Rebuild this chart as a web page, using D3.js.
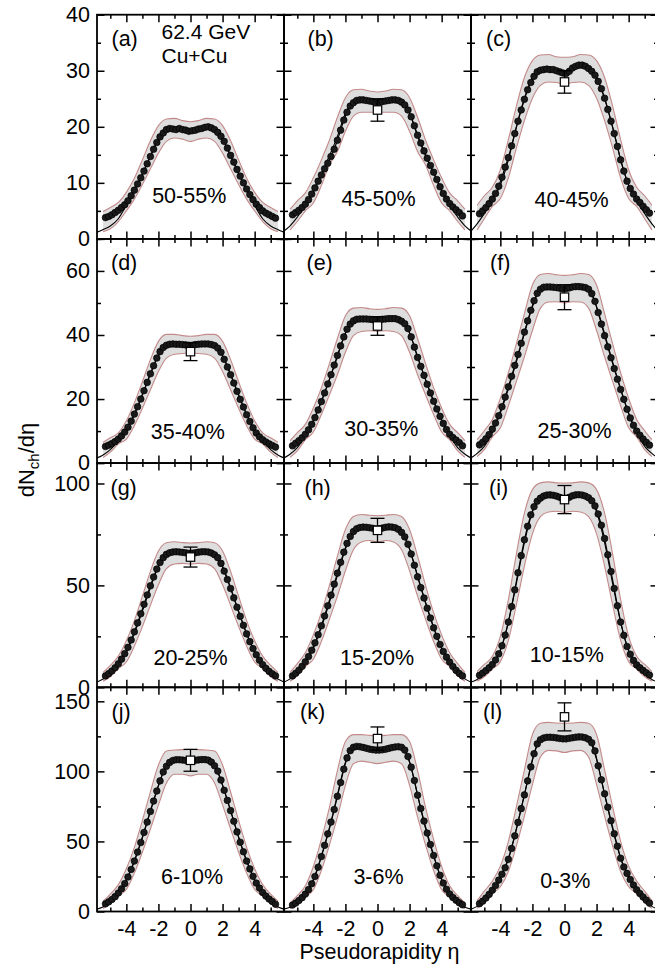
<!DOCTYPE html>
<html><head><meta charset="utf-8">
<script src="https://cdn.jsdelivr.net/npm/d3@7"></script>
<style>
body{margin:0;background:#fff}
svg{display:block}
text{font-family:"Liberation Sans", Arial, Helvetica, sans-serif;fill:#000}
</style>
</head><body>
<svg id="chart" width="655" height="969"></svg>
<script>
// ---------------- DATA ----------------
const panelTags = ["(a)","(b)","(c)","(d)","(e)","(f)","(g)","(h)","(i)","(j)","(k)","(l)"];
const centralities = ["50-55%","45-50%","40-45%","35-40%","30-35%","25-30%","20-25%","15-20%","10-15%","6-10%","3-6%","0-3%"];
const rowMax = [40, 70, 110, 160];
const yMajor = [[0,10,20,30,40],[0,20,40,60],[0,50,100],[0,50,100,150]];
const yMinor = [[5,15,25,35],[10,30,50,70],[25,75],[25,75,125]];
const xMajor = [-4,-2,0,2,4];
const xMinor = [-5,-3,-1,1,3,5];

const etaData = [-5.3,-5.1,-4.9,-4.7,-4.5,-4.3,-4.1,-3.9,-3.7,-3.5,-3.3,-3.1,-2.9,-2.7,-2.5,-2.3,-2.1,-1.9,-1.7,-1.5,-1.3,-1.1,-0.9,-0.7,-0.5,-0.3,-0.1,
                 0.1,0.3,0.5,0.7,0.9,1.1,1.3,1.5,1.7,1.9,2.1,2.3,2.5,2.7,2.9,3.1,3.3,3.5,3.7,3.9,4.1,4.3,4.5,4.7,4.9,5.1,5.3];

const dndeta = [
 [3.8,4.0,4.3,4.7,5.1,5.6,6.1,6.8,7.7,8.7,9.8,10.9,12.1,13.4,14.7,16.0,17.2,18.2,18.9,19.5,19.7,19.6,19.5,19.7,19.5,19.4,19.2,
  19.3,19.4,19.6,19.7,19.9,20.0,19.8,19.5,19.0,18.3,17.4,16.2,14.9,13.7,12.4,11.2,10.0,8.9,7.9,7.0,6.2,5.6,5.0,4.6,4.3,4.0,3.7],
 [4.3,4.7,5.1,5.6,6.2,7.0,8.0,9.1,10.3,11.4,12.5,13.5,14.7,16.0,17.6,19.4,21.2,22.6,23.7,24.3,24.7,24.8,24.8,24.7,24.6,24.5,24.3,
  24.4,24.5,24.6,24.7,24.8,24.8,24.7,24.4,23.9,23.0,21.8,20.2,18.5,17.1,15.7,14.4,13.1,11.9,10.6,9.3,8.1,7.1,6.3,5.7,5.2,4.7,4.1],
 [4.5,5.0,5.6,6.3,7.1,8.1,9.4,11.0,12.8,14.5,16.6,18.8,21.0,23.0,24.9,26.6,27.9,29.0,29.8,30.1,30.2,30.3,30.2,30.2,30.0,29.8,29.6,
  29.5,29.9,30.5,30.8,31.0,31.0,30.8,30.4,29.9,29.2,28.1,26.8,25.1,23.1,21.0,18.8,16.5,14.1,12.1,10.3,9.0,8.0,7.1,6.5,5.8,5.2,4.6],
 [5.2,5.6,6.1,6.7,7.5,8.5,9.7,11.2,13.1,15.3,17.6,20.0,22.6,25.2,27.9,30.4,32.8,34.8,36.1,36.8,37.1,37.2,37.1,37.1,37.0,36.9,36.8,
  36.8,37.0,37.1,37.2,37.2,37.2,37.0,36.7,35.9,34.6,32.4,30.0,27.6,25.0,22.4,19.9,17.5,15.1,13.0,11.0,9.4,8.2,7.3,6.6,6.0,5.5,5.0],
 [5.4,6.2,7.0,7.9,9.0,10.4,12.1,14.2,16.6,19.2,21.9,24.7,27.6,30.6,33.6,36.6,39.4,41.8,43.4,44.4,44.9,45.0,45.0,45.0,44.9,44.8,44.7,
  44.8,44.9,45.0,45.1,45.1,45.1,44.8,44.3,43.5,42.0,39.4,36.2,33.0,30.2,27.4,24.6,21.9,19.3,16.9,14.6,12.4,10.5,9.0,8.0,7.2,6.4,5.4],
 [5.7,6.5,7.6,8.9,10.6,12.5,14.8,17.6,20.6,23.8,27.1,30.5,33.9,37.4,40.9,44.4,47.7,50.7,53.0,54.3,54.9,55.0,55.0,54.9,54.8,54.6,54.4,
  54.5,54.7,55.0,55.1,55.1,55.0,54.8,54.3,52.9,50.5,47.0,43.4,39.8,36.3,32.9,29.5,26.2,23.0,19.9,16.8,14.1,11.8,10.0,8.7,7.5,6.5,5.6],
 [5.6,6.7,8.0,9.6,11.5,13.8,16.5,19.6,23.2,27.2,31.6,36.1,40.7,45.3,49.8,54.1,58.0,61.2,63.6,65.2,66.0,66.4,66.5,66.4,66.2,66.0,65.7,
  65.8,66.0,66.3,66.5,66.5,66.4,65.9,65.0,63.6,60.8,57.0,52.9,48.5,43.9,39.3,34.8,30.4,26.2,22.4,19.0,16.0,13.3,11.1,9.3,7.8,6.6,5.6],
 [5.6,6.9,8.4,10.3,12.5,15.1,18.2,21.8,25.8,30.2,35.0,40.0,45.2,50.6,56.0,61.3,66.3,70.6,74.0,76.4,77.8,78.4,78.6,78.5,78.3,78.0,77.7,
  77.8,78.1,78.5,78.7,78.6,78.3,77.5,76.0,73.8,70.2,65.4,59.9,54.2,48.9,43.8,38.8,34.0,29.2,25.0,21.0,17.6,14.8,12.4,10.2,8.3,6.8,5.6],
 [5.9,7.0,8.2,9.6,11.2,13.4,16.4,20.4,25.6,32.0,39.6,47.8,56.2,64.6,72.4,79.0,84.6,88.6,91.3,92.8,93.8,94.3,94.4,94.2,93.8,93.2,92.6,
  92.6,93.2,94.0,94.4,94.5,94.3,93.8,93.0,91.5,89.0,85.0,79.5,73.0,65.0,56.8,48.5,40.0,32.0,25.5,20.0,16.2,13.2,11.0,9.6,8.3,7.1,6.0],
 [5.5,6.9,8.6,10.6,13.2,16.2,19.9,24.6,30.0,36.0,42.4,49.2,56.4,63.8,71.4,78.8,86.0,93.2,99.6,103.6,106.4,107.8,108.3,108.3,108.1,107.8,107.5,
  107.6,107.9,108.2,108.4,108.4,108.0,106.6,104.0,100.2,93.8,86.5,79.3,72.0,64.4,56.8,49.4,42.6,36.0,30.4,25.1,20.3,16.7,13.5,11.0,8.9,7.1,5.2],
 [4.6,6.0,7.8,9.9,12.4,15.6,19.8,25.0,31.6,39.2,47.2,55.4,63.8,72.8,82.2,92.0,101.6,109.6,114.8,117.2,117.8,117.6,117.1,116.5,115.9,115.5,115.2,
  115.2,115.4,115.8,116.4,117.0,117.4,117.6,117.2,115.2,110.6,103.0,93.5,83.0,73.5,64.5,56.0,47.8,40.0,32.6,25.8,20.3,15.9,12.5,10.0,8.0,6.2,4.8],
 [5.6,7.4,9.6,12.2,15.2,18.6,22.4,26.6,31.2,37.2,45.0,54.0,63.6,73.4,83.2,93.2,103.2,112.6,119.6,122.6,123.8,124.3,124.4,124.2,123.9,123.5,123.2,
  123.2,123.6,124.0,124.4,124.6,124.5,124.0,122.9,120.4,114.6,104.0,94.0,84.0,74.4,64.8,55.5,46.6,38.0,31.8,27.2,22.8,18.9,15.5,12.8,10.4,8.1,6.0]
];

const etaCurve = [-5.83,-5.5,-5,-4.5,-4,-3.5,-3,-2.5,-2,-1.5,-1,-0.5,0,0.5,1,1.5,2,2.5,3,3.5,4,4.5,5,5.5,5.83];
const model = [
 [1.2,1.6,2.3,3.6,6.0,8.8,11.6,14.8,17.8,19.4,19.6,19.5,19.3,19.5,19.6,19.4,17.8,14.8,11.6,8.8,6.0,3.6,2.3,1.6,1.2],
 [1.4,2.2,3.9,5.9,8.5,11.7,14.8,18.3,22.4,24.4,24.7,24.6,24.4,24.6,24.7,24.4,22.4,18.3,14.8,11.7,8.5,5.9,3.9,2.2,1.4],
 [1.4,2.5,4.5,6.8,9.6,14.1,20.0,25.1,28.8,30.3,30.6,30.3,29.9,30.3,30.6,30.3,28.8,25.1,20.0,14.1,9.6,6.8,4.5,2.5,1.4],
 [1.6,2.4,4.2,7.0,10.4,15.2,21.4,27.8,33.6,36.6,37.2,37.1,36.9,37.1,37.2,36.6,33.6,27.8,21.4,15.2,10.4,7.0,4.2,2.4,1.6],
 [1.6,2.6,4.8,8.6,13.4,19.3,26.0,33.2,40.6,44.2,45.0,45.0,44.8,45.0,45.0,44.2,40.6,33.2,26.0,19.3,13.4,8.6,4.8,2.6,1.6],
 [1.6,2.8,5.2,9.6,15.6,23.2,31.6,40.4,48.8,54.2,55.1,55.0,54.6,55.0,55.1,54.2,48.8,40.4,31.6,23.2,15.6,9.6,5.2,2.8,1.6],
 [2.6,3.8,6.5,10.8,17.4,26.4,37.4,48.8,59.4,65.0,66.5,66.3,65.9,66.3,66.5,65.0,59.4,48.8,37.4,26.4,17.4,10.8,6.5,3.8,2.6],
 [2.6,3.9,7.0,12.0,19.2,29.4,41.6,54.8,67.8,76.1,78.5,78.5,77.9,78.5,78.5,76.1,67.8,54.8,41.6,29.4,19.2,12.0,7.0,3.9,2.6],
 [2.6,3.6,6.5,10.5,18.0,32.0,51.0,71.0,86.0,93.0,94.4,94.0,92.8,94.0,94.4,93.0,86.0,71.0,51.0,32.0,18.0,10.5,6.5,3.6,2.6],
 [1.7,3.0,6.8,13.0,22.6,36.0,53.0,72.0,90.0,104.0,108.3,108.2,107.8,108.2,108.3,104.0,90.0,72.0,53.0,36.0,22.6,13.0,6.8,3.0,1.7],
 [1.7,2.8,6.0,12.0,22.6,39.6,59.0,83.0,106.5,117.0,117.2,116.0,115.5,116.0,117.2,117.0,106.5,83.0,59.0,39.6,22.6,12.0,6.0,2.8,1.7],
 [1.7,3.3,7.8,15.0,24.8,38.0,59.0,83.5,108.5,122.8,124.5,124.0,123.4,124.0,124.5,122.8,108.5,83.5,59.0,38.0,24.8,15.0,7.8,3.3,1.7]
];

const etaBand = [-5.45,-5,-4.5,-4,-3.5,-3,-2.5,-2,-1.5,-1,-0.5,0,0.5,1,1.5,2,2.5,3,3.5,4,4.5,5,5.45];
const bandHi = [
 [4.9,5.6,6.5,8.3,10.8,14.1,17.5,20.2,21.4,21.5,21.1,20.9,21.1,21.5,21.4,20.2,17.5,14.1,10.8,8.3,6.5,5.6,4.9],
 [5.3,6.8,8.2,10.9,14.1,17.6,21.7,25.2,26.6,26.7,26.4,26.2,26.4,26.7,26.6,25.2,21.7,17.6,14.1,10.9,8.2,6.8,5.3],
 [6.0,7.7,9.2,12.3,17.7,23.7,28.8,31.8,32.8,32.9,32.5,32.4,32.5,32.9,32.8,31.8,28.8,23.7,17.7,12.3,9.2,7.7,6.0],
 [6.5,7.9,9.4,13.2,18.8,25.4,32.3,38.0,40.2,40.2,39.8,39.6,39.8,40.2,40.2,38.0,32.3,25.4,18.8,13.2,9.4,7.9,6.5],
 [7.0,9.5,12.1,17.2,23.5,31.0,38.9,46.0,48.4,48.6,48.2,48.0,48.2,48.6,48.4,46.0,38.9,31.0,23.5,17.2,12.1,9.5,7.0],
 [7.3,10.1,13.6,20.2,28.2,37.3,46.7,55.6,58.9,59.2,58.8,58.6,58.8,59.2,58.9,55.6,46.7,37.3,28.2,20.2,13.6,10.1,7.3],
 [7.3,10.7,15.3,22.8,32.7,44.7,56.9,66.9,70.9,71.4,71.0,70.8,71.0,71.4,70.9,66.9,56.9,44.7,32.7,22.8,15.3,10.7,7.3],
 [7.3,11.6,17.0,25.7,36.6,49.9,64.4,77.4,83.8,84.8,84.4,84.2,84.4,84.8,83.8,77.4,64.4,49.9,36.6,25.7,17.0,11.6,7.3],
 [7.8,11.2,15.2,25.0,43.0,65.5,85.5,97.0,100.3,100.8,100.3,100.2,100.3,100.8,100.3,97.0,85.5,65.5,43.0,25.0,15.2,11.2,7.8],
 [7.3,12.4,19.2,30.5,45.8,65.1,85.3,104.6,114.6,115.2,115.5,115.6,115.5,115.2,114.6,104.6,85.3,65.1,45.8,30.5,19.2,12.4,7.3],
 [6.2,11.3,18.3,32.1,51.4,74.1,100.5,121.3,126.2,126.2,125.7,125.5,125.7,126.2,126.2,121.3,100.5,74.1,51.4,32.1,18.3,11.3,6.2],
 [7.8,14.5,21.7,32.4,50.1,74.8,101.1,126.3,134.3,135.0,134.5,134.3,134.5,135.0,134.3,126.3,101.1,74.8,50.1,32.4,21.7,14.5,7.8]
];
const bandLo = [
 [1.3,1.8,3.1,5.0,7.1,9.7,12.5,15.3,17.4,18.0,17.8,17.4,17.8,18.0,17.4,15.3,12.5,9.7,7.1,5.0,3.1,1.8,1.3],
 [1.6,3.1,5.0,6.4,9.5,13.2,15.6,19.2,21.9,22.6,22.6,22.6,22.6,22.6,21.9,19.2,15.6,13.2,9.5,6.4,5.0,3.1,1.6],
 [1.6,3.6,5.8,7.2,10.9,16.2,21.1,25.1,27.4,28.0,27.9,27.6,27.9,28.0,27.4,25.1,21.1,16.2,10.9,7.2,5.8,3.6,1.6],
 [1.7,3.4,6.0,7.5,11.7,17.1,22.9,28.6,32.8,34.0,34.2,34.4,34.2,34.0,32.8,28.6,22.9,17.1,11.7,7.5,6.0,3.4,1.7],
 [1.8,3.8,7.3,9.7,15.2,21.3,27.6,34.6,39.8,41.1,41.3,41.2,41.3,41.1,39.8,34.6,27.6,21.3,15.2,9.7,7.3,3.8,1.8],
 [2.0,4.2,8.2,11.0,17.9,25.5,33.2,41.4,48.4,50.3,50.4,50.0,50.4,50.3,48.4,41.4,33.2,25.5,17.9,11.0,8.2,4.2,2.0],
 [3.0,5.2,9.2,12.4,20.2,29.8,40.2,50.3,58.2,60.5,60.8,60.4,60.8,60.5,58.2,50.3,40.2,29.8,20.2,12.4,9.2,5.2,3.0],
 [3.0,5.6,10.2,13.8,22.5,33.3,44.7,57.2,67.5,71.3,72.0,71.3,72.0,71.3,67.5,57.2,44.7,33.3,22.5,13.8,10.2,5.6,3.0],
 [3.0,5.2,8.9,12.6,23.0,40.5,59.5,75.3,83.7,86.0,86.4,85.8,86.4,86.0,83.7,75.3,59.5,40.5,23.0,12.6,8.9,5.2,3.0],
 [2.2,5.5,11.0,15.7,27.4,42.3,58.9,75.9,91.7,98.0,98.0,96.8,98.0,98.0,91.7,75.9,58.9,42.3,27.4,15.7,11.0,5.5,2.2],
 [2.1,4.8,10.2,15.5,29.3,47.4,67.3,90.0,105.4,107.3,106.5,105.5,106.5,107.3,105.4,90.0,67.3,47.4,29.3,15.5,10.2,4.8,2.1],
 [2.2,6.2,12.8,17.7,28.6,46.8,68.1,90.6,110.2,115.0,114.6,113.5,114.6,115.0,110.2,90.6,68.1,46.8,28.6,17.7,12.8,6.2,2.2]
];

// comparison point at eta = 0 (value, error); panel (a) has none
const refValue = [null, 23.0, 28.0, 34.8, 42.8, 51.8, 63.9, 77.0, 92.1, 107.9, 123.4, 138.9];
const refError = [null, 2.0, 2.0, 2.8, 2.9, 3.9, 4.9, 5.9, 6.9, 7.8, 8.3, 10.0];

// ---------------- LAYOUT ----------------
const originX = 97, originY = 14.7, PW = 187, PH = 224.2;
const FONT = 21.5;
const tagX = [111.5, 307.5, 486, 111, 306.5, 490, 110.5, 304.5, 489, 111.5, 300, 483];
const tagDy = 31.5;
const centDx = [-1.3, 1, 7, -2.7, 3.8, 10, 0, -0.5, 2.3, 1.5, 1, 0.8];
const centDy = [188.6, 191, 192, 200.3, 197.3, 199, 201.7, 201.7, 198.4, 196.5, 196.5, 200.8];

const svg = d3.select("#chart");
const x = d3.scaleLinear().domain([-5.83, 5.83]).range([0, PW]);
const defs = svg.append("defs");
defs.append("clipPath").attr("id", "pclip").append("rect")
  .attr("x", 0).attr("y", 0).attr("width", PW).attr("height", PH);

for (let p = 0; p < 12; p++) {
  const row = Math.floor(p / 3), col = p % 3;
  const gx = originX + col * PW, gy = originY + row * PH;
  const g = svg.append("g").attr("transform", `translate(${gx},${gy})`);
  const y = d3.scaleLinear().domain([0, rowMax[row]]).range([PH, 0]);
  const plot = g.append("g").attr("clip-path", "url(#pclip)");

  // band
  const idxB = d3.range(etaBand.length);
  plot.append("path")
    .attr("d", d3.area().x(i => x(etaBand[i])).y0(i => y(bandLo[p][i])).y1(i => y(bandHi[p][i]))
      .curve(d3.curveMonotoneX)(idxB))
    .attr("fill", "#dedede").attr("stroke", "none");
  [bandHi[p], bandLo[p]].forEach(arr => {
    plot.append("path")
      .attr("d", d3.line().x(i => x(etaBand[i])).y(i => y(arr[i])).curve(d3.curveMonotoneX)(idxB))
      .attr("fill", "none").attr("stroke", "#c48a8a").attr("stroke-width", 1.1);
  });

  // model curve
  const idxM = d3.range(etaCurve.length);
  plot.append("path")
    .attr("d", d3.line().x(i => x(etaCurve[i])).y(i => y(model[p][i])).curve(d3.curveMonotoneX)(idxM))
    .attr("fill", "none").attr("stroke", "#000").attr("stroke-width", 1.1);

  // data line + points
  const idxD = d3.range(etaData.length);
  plot.append("path")
    .attr("d", d3.line().x(i => x(etaData[i])).y(i => y(dndeta[p][i]))(idxD))
    .attr("fill", "none").attr("stroke", "#000").attr("stroke-width", 1.2);
  plot.selectAll("circle.pt").data(idxD).join("circle")
    .attr("class", "pt")
    .attr("cx", i => x(etaData[i])).attr("cy", i => y(dndeta[p][i]))
    .attr("r", 3.3).attr("fill", "#1a1a1a").attr("stroke", "#000").attr("stroke-width", 0.7);

  // comparison point
  if (refValue[p] !== null) {
    const cx = x(0), v = refValue[p], e = refError[p];
    const eg = g.append("g").attr("stroke", "#000").attr("stroke-width", 1.3);
    eg.append("line").attr("x1", cx).attr("x2", cx).attr("y1", y(v - e)).attr("y2", y(v + e));
    [v - e, v + e].forEach(t => eg.append("line").attr("x1", cx - 7).attr("x2", cx + 7).attr("y1", y(t)).attr("y2", y(t)));
    g.append("rect").attr("x", cx - 4.2).attr("y", y(v) - 4.2).attr("width", 8.4).attr("height", 8.4)
      .attr("fill", "#fff").attr("stroke", "#000").attr("stroke-width", 1.2);
  }

  // ticks (inward on all sides) via d3 axes
  const styleAxis = sel => {
    sel.select(".domain").remove();
    sel.selectAll(".tick line").attr("stroke", "#000").attr("stroke-width", 1.5);
    sel.selectAll("text").attr("font-size", FONT).attr("font-family", "Liberation Sans, Arial, sans-serif").attr("fill", "#000");
  };
  const isBottom = row === 3;
  g.append("g").attr("transform", `translate(0,${PH})`)
    .call(d3.axisBottom(x).tickValues(xMajor).tickSize(-7.5).tickSizeOuter(0).tickPadding(9.4)
      .tickFormat(d => isBottom ? (d < 0 ? "-" + Math.abs(d) : String(d)) : ""))
    .call(styleAxis);
  g.append("g").attr("transform", `translate(0,${PH})`)
    .call(d3.axisBottom(x).tickValues(xMinor).tickSize(-4).tickSizeOuter(0).tickFormat(""))
    .call(styleAxis);
  g.append("g").call(d3.axisTop(x).tickValues(xMajor).tickSize(-7.5).tickSizeOuter(0).tickFormat("")).call(styleAxis);
  g.append("g").call(d3.axisTop(x).tickValues(xMinor).tickSize(-4).tickSizeOuter(0).tickFormat("")).call(styleAxis);
  g.append("g").call(d3.axisLeft(y).tickValues(yMajor[row]).tickSize(-7.5).tickSizeOuter(0).tickPadding(7)
      .tickFormat(d => col === 0 ? String(d) : "")).call(styleAxis);
  g.append("g").call(d3.axisLeft(y).tickValues(yMinor[row]).tickSize(-4).tickSizeOuter(0).tickFormat("")).call(styleAxis);
  g.append("g").attr("transform", `translate(${PW},0)`)
    .call(d3.axisRight(y).tickValues(yMajor[row]).tickSize(-7.5).tickSizeOuter(0).tickFormat("")).call(styleAxis);
  g.append("g").attr("transform", `translate(${PW},0)`)
    .call(d3.axisRight(y).tickValues(yMinor[row]).tickSize(-4).tickSizeOuter(0).tickFormat("")).call(styleAxis);

  // frame
  g.append("rect").attr("x", 0).attr("y", 0).attr("width", PW).attr("height", PH)
    .attr("fill", "none").attr("stroke", "#000").attr("stroke-width", 1.8);

  // labels
  svg.append("text").attr("x", tagX[p]).attr("y", gy + tagDy).attr("font-size", FONT).text(panelTags[p]);
  svg.append("text").attr("x", gx + PW / 2 + centDx[p]).attr("y", gy + centDy[p])
    .attr("text-anchor", "middle").attr("font-size", FONT).text(centralities[p]);
}

svg.append("text").attr("x", 161.5).attr("y", 38.5).attr("font-size", 21).text("62.4 GeV");
svg.append("text").attr("x", 161.5).attr("y", 62.5).attr("font-size", 21).text("Cu+Cu");

svg.append("text").attr("x", 379.5).attr("y", 959).attr("text-anchor", "middle").attr("font-size", FONT)
  .text("Pseudorapidity η");
const yt = svg.append("text").attr("transform", "translate(34,460) rotate(-90)")
  .attr("text-anchor", "middle").attr("font-size", 22);
yt.append("tspan").text("dN");
yt.append("tspan").attr("font-size", 15).attr("dy", 5).text("ch");
yt.append("tspan").attr("dy", -5).text("/dη");
</script>
</body></html>
